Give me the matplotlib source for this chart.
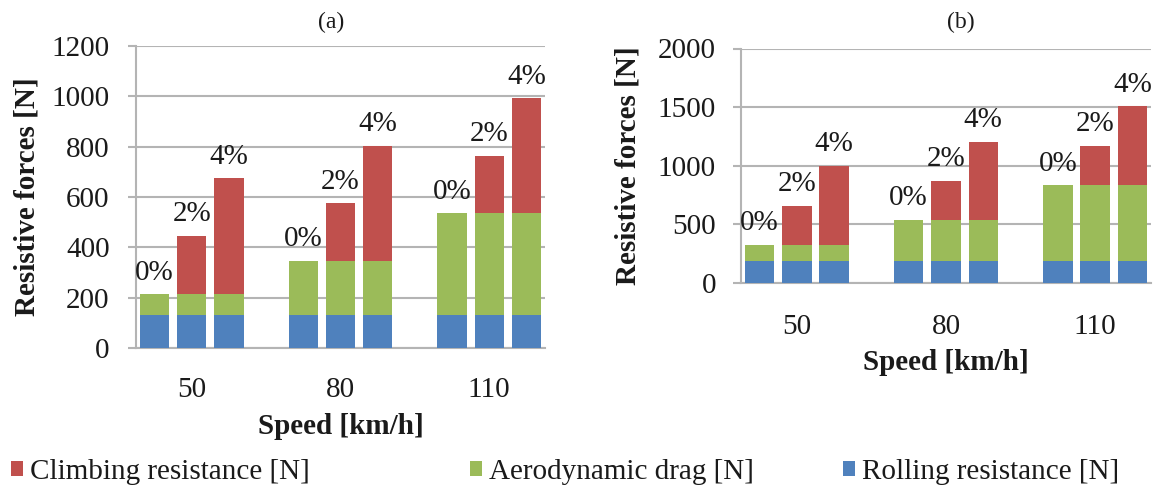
import matplotlib
matplotlib.use("Agg")
import matplotlib.pyplot as plt
from matplotlib.patches import Patch

plt.rcParams['font.family'] = ['Liberation Serif', 'DejaVu Serif']

# ---- data ----
speeds = ["50", "80", "110"]
grades = ["0%", "2%", "4%"]
series_names = ["Climbing resistance [N]", "Aerodynamic drag [N]", "Rolling resistance [N]"]

# panel (a)
rolling_a = [132, 132, 132]
aero_a = [82, 215, 403]
climb_a_0 = [0, 0, 0]
climb_a_2 = [232, 228, 229]
climb_a_4 = [460, 457, 457]

# panel (b)
rolling_b = [185, 185, 185]
aero_b = [139, 352, 650]
climb_b_0 = [0, 0, 0]
climb_b_2 = [335, 335, 335]
climb_b_4 = [676, 667, 673]

c_red = '#C0504D'
c_green = '#9BBB59'
c_blue = '#4F81BD'
grid_c = '#B4B4B4'

W, H = 1155, 493
fig = plt.figure(figsize=(W / 100, H / 100), dpi=100)


def ax_rect(l, r, t, b):
    return [l / W, 1 - b / H, (r - l) / W, (b - t) / H]


def draw_panel(ax, rolling, aero, climbs, ymax, ystep, ylab_x, xlab_y, ypad, xpad):
    width = 0.79
    for si in range(len(speeds)):
        for gi in range(len(grades)):
            x = si * 4 + gi
            r = rolling[si]
            a = aero[si]
            c = climbs[gi][si]
            ax.bar(x, r, width, color=c_blue, zorder=3)
            ax.bar(x, a, width, bottom=r, color=c_green, zorder=3)
            if c > 0:
                ax.bar(x, c, width, bottom=r + a, color=c_red, zorder=3)
            ax.annotate(grades[gi], (x, r + a + c), xytext=(0, 10.5),
                        textcoords='offset points', ha='center', va='baseline',
                        fontsize=21, color='#1a1a1a', zorder=4)
    ax.set_xlim(-0.5, 10.5)
    ax.set_ylim(0, ymax)
    ax.set_yticks(range(0, ymax + 1, ystep))
    ax.set_xticks([1, 5, 9])
    ax.set_xticklabels(speeds)
    ax.yaxis.grid(True, color=grid_c, lw=1.5, zorder=0)
    ax.set_axisbelow(True)
    for s in ['top', 'right']:
        ax.spines[s].set_visible(False)
    for s in ['left', 'bottom']:
        ax.spines[s].set_color(grid_c)
        ax.spines[s].set_linewidth(1.5)
    ax.tick_params(axis='y', length=6, width=1.5, color=grid_c, pad=ypad,
                   labelsize=21, labelcolor='#1a1a1a')
    ax.tick_params(axis='x', length=0, pad=xpad, labelsize=21, labelcolor='#1a1a1a')
    ax.set_ylabel("Resistive forces [N]", fontsize=21, fontweight='bold',
                  va='center', ha='center', color='#1a1a1a')
    ax.yaxis.set_label_coords(ylab_x, 0.5)
    ax.set_xlabel("Speed [km/h]", fontsize=21, fontweight='bold',
                  va='center', ha='center', color='#1a1a1a')
    ax.xaxis.set_label_coords(0.5, xlab_y)


ax1 = fig.add_axes(ax_rect(136, 545, 46, 348))
draw_panel(ax1, rolling_a, aero_a, [climb_a_0, climb_a_2, climb_a_4],
           1200, 200, (27 - 136) / 409, (348 - 427) / 302, 13, 21)

ax2 = fig.add_axes(ax_rect(741, 1151, 48.5, 283))
draw_panel(ax2, rolling_b, aero_b, [climb_b_0, climb_b_2, climb_b_4],
           2000, 500, (628 - 741) / 410, (283 - 363) / 234.5, 12, 22)

fig.text(331 / W, 1 - 22 / H, "(a)", ha='center', va='center', fontsize=17, color='#1a1a1a')
fig.text(961 / W, 1 - 22 / H, "(b)", ha='center', va='center', fontsize=17, color='#1a1a1a')

# legend entries
leg_x = [11, 470, 843]
leg_cols = [c_red, c_green, c_blue]
for name, col, lx in zip(series_names, leg_cols, leg_x):
    fig.legend(handles=[Patch(facecolor=col, edgecolor='none', label=name)],
               loc='center left', bbox_to_anchor=(lx / W, 1 - 472 / H),
               frameon=False, fontsize=21, handlelength=0.4, handleheight=0.4,
               handletextpad=0.25, borderpad=0, borderaxespad=0,
               labelcolor='#1a1a1a')

fig.savefig("out.png", dpi=100)
